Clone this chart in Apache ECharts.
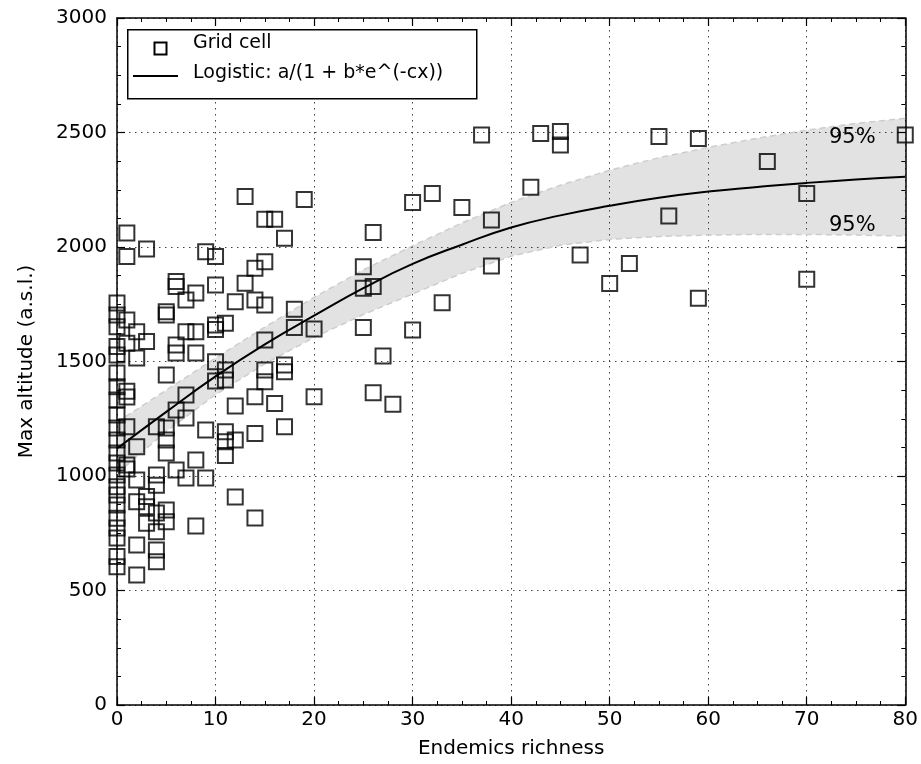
<!DOCTYPE html>
<html>
<head>
<meta charset="utf-8">
<script src="https://cdn.jsdelivr.net/npm/echarts@6/dist/echarts.min.js"></script>
<style>
html,body{margin:0;padding:0;background:#fff;}
#chart{width:921px;height:764px;}
</style>
</head>
<body>
<div id="chart"></div>
<script>
// Scatter data: endemics richness (x) and max altitude (y)
const richness = [
  0,0,0,0,0,0,0,0,0,0,0,0,0,0,0,0,0,0,0,0,0,0,
  1,1,1,1,1,1,1,1,1,
  2,2,2,2,2,2,2,
  3,3,3,3,3,
  4,4,4,4,4,4,4,
  5,5,5,5,5,5,5,5,
  6,6,6,6,6,6,
  7,7,7,7,7,
  8,8,8,8,8,
  9,9,9,
  10,10,10,10,10,10,
  11,11,11,11,11,11,
  12,12,12,12,
  13,13,
  14,14,14,14,14,
  15,15,15,15,15,15,
  16,16,
  17,17,17,17,
  18,18,
  19,
  20,20,
  25,25,25,
  26,26,26,
  27,28,
  30,30,
  32,33,35,37,
  38,38,
  42,43,
  45,45,
  47,50,52,55,56,
  59,59,
  66,
  70,70,
  80
];
const altitude = [
  1755,1703,1652,1565,1528,1450,1390,1332,1266,1210,1157,1100,1057,1004,953,917,873,816,773,729,648,604,
  2061,1958,1681,1580,1370,1345,1215,1048,1031,
  1630,1515,1128,982,888,699,568,
  1991,1587,910,866,794,
  1215,1004,960,838,757,677,626,
  1717,1703,1441,1210,1157,1100,851,800,
  1849,1827,1572,1537,1288,1026,
  1769,1630,1354,1253,991,
  1799,1630,1537,1070,782,
  1979,1201,991,
  1958,1834,1659,1640,1499,1415,
  1667,1463,1419,1193,1150,1090,
  1761,1306,1157,908,
  2220,1842,
  1907,1769,1346,1186,817,
  2121,1936,1747,1594,1463,1412,
  2121,1317,
  2038,1485,1455,1215,
  1728,1649,
  2207,
  1642,1346,
  1914,1820,1649,
  2063,1827,1364,
  1524,1313,
  2194,1638,
  2234,1757,2173,2489,
  2118,1917,
  2261,2496,
  2504,2445,
  1965,1841,1928,2482,2135,
  2474,1776,
  2373,
  2234,1859,
  2489
];

// Logistic fit curve and 95% band, sampled from the figure
const curveX = [0,5,10,15,20,25,30,35,40,45,50,55,60,65,70,75,80];
const fitY   = [1120,1280,1435,1575,1700,1820,1926,2010,2085,2138,2180,2215,2242,2262,2280,2295,2307];
const upperY = [1235,1375,1515,1650,1780,1900,2005,2105,2195,2270,2335,2390,2435,2475,2510,2540,2562];
const lowerY = [1010,1195,1355,1490,1605,1705,1795,1885,1960,2008,2033,2046,2052,2055,2055,2052,2048];

const xTicks = [0,10,20,30,40,50,60,70,80];
const yTicks = [0,500,1000,1500,2000,2500,3000];

const FONT = 'DejaVu Sans';
const scatterData = richness.map((x, i) => [x, altitude[i]]);
const pair = arr => curveX.map((x, i) => [x, arr[i]]);
const bandData = curveX.map((x, i) => [x, lowerY[i], upperY[i]]);

const chart = echarts.init(document.getElementById('chart'));

const gridLine = {show: true, lineStyle: {color: '#444', width: 1, type: [1.5, 4.5]}};
const axLine = {show: true, onZero: false, lineStyle: {color: '#000', width: 1.5}};
const tick = {show: true, inside: true, length: 8, lineStyle: {color: '#000', width: 1.2}};
const minor = {show: true, splitNumber: 4, length: 4, lineStyle: {color: '#000', width: 1}};

chart.setOption({
  animation: false,
  backgroundColor: '#fff',
  grid: {left: 117, right: 15, top: 18, bottom: 59, containLabel: false},
  xAxis: [{
    type: 'value', min: xTicks[0], max: xTicks[xTicks.length - 1], interval: 10,
    name: 'Endemics richness', nameLocation: 'middle', nameGap: 34,
    nameTextStyle: {fontFamily: FONT, fontSize: 20, color: '#000'},
    axisLine: axLine, axisTick: tick, minorTick: minor,
    axisLabel: {fontFamily: FONT, fontSize: 20, color: '#000', margin: 5},
    splitLine: gridLine
  }, {
    type: 'value', position: 'top', min: 0, max: 80, interval: 10,
    axisLine: axLine, axisTick: tick, minorTick: minor,
    axisLabel: {show: false}, splitLine: {show: false}
  }],
  yAxis: [{
    type: 'value', min: yTicks[0], max: yTicks[yTicks.length - 1], interval: 500,
    name: 'Max altitude (a.s.l.)', nameLocation: 'middle', nameGap: 80,
    nameTextStyle: {fontFamily: FONT, fontSize: 20, color: '#000'},
    axisLine: axLine, axisTick: tick, minorTick: minor,
    axisLabel: {fontFamily: FONT, fontSize: 20, color: '#000', margin: 10,
                formatter: v => String(v)},
    splitLine: gridLine
  }, {
    type: 'value', position: 'right', min: 0, max: 3000, interval: 500,
    axisLine: axLine, axisTick: tick, minorTick: minor,
    axisLabel: {show: false}, splitLine: {show: false}
  }],
  series: [
    {
      name: 'band', type: 'custom', data: bandData, silent: true, z: 1, clip: true,
      renderItem: function (params, api) {
        if (params.dataIndex !== 0) return null;
        const up = [], lo = [];
        for (let i = 0; i < bandData.length; i++) {
          up.push(api.coord([bandData[i][0], bandData[i][2]]));
          lo.push(api.coord([bandData[i][0], bandData[i][1]]));
        }
        const pts = up.concat(lo.reverse());
        return {
          type: 'polygon',
          shape: {points: pts},
          style: {fill: 'rgba(0,0,0,0.115)', stroke: 'none'}
        };
      }
    },
    {
      name: 'upperEdge', type: 'line', data: pair(upperY), symbol: 'none', smooth: false,
      lineStyle: {color: '#cdcdcd', width: 1.5, type: [6, 4]}, silent: true, z: 2
    },
    {
      name: 'lowerEdge', type: 'line', data: pair(lowerY), symbol: 'none', smooth: false,
      lineStyle: {color: '#cdcdcd', width: 1.5, type: [6, 4]}, silent: true, z: 2
    },
    {
      name: 'Logistic: a/(1 + b*e^(-cx))', type: 'line', data: pair(fitY), symbol: 'none', smooth: true,
      lineStyle: {color: '#000', width: 2}, z: 3
    },
    {
      name: 'Grid cell', type: 'scatter', data: scatterData, symbol: 'rect', symbolSize: 15,
      itemStyle: {color: 'rgba(255,255,255,0)', borderColor: '#000', borderWidth: 2}, z: 4
    }
  ],
  graphic: [
    {type: 'rect', left: 127, top: 29, z: 100,
     shape: {width: 349, height: 69},
     style: {fill: '#fff', stroke: '#000', lineWidth: 1.5}},
    {type: 'rect', left: 152, top: 40, z: 101,
     shape: {width: 12, height: 12},
     style: {fill: 'none', stroke: '#000', lineWidth: 2}},
    {type: 'line', z: 101, shape: {x1: 133, y1: 76, x2: 178, y2: 76},
     style: {stroke: '#000', lineWidth: 2}},
    {type: 'text', left: 193, top: 34, z: 101,
     style: {text: 'Grid cell', font: '19px "DejaVu Sans"', fill: '#000'}},
    {type: 'text', left: 193, top: 64, z: 101,
     style: {text: 'Logistic: a/(1 + b*e^(-cx))', font: '19px "DejaVu Sans"', fill: '#000'}},
    {type: 'text', left: 829, top: 127, z: 101,
     style: {text: '95%', font: '21px "DejaVu Sans"', fill: '#000'}},
    {type: 'text', left: 829, top: 215, z: 101,
     style: {text: '95%', font: '21px "DejaVu Sans"', fill: '#000'}}
  ]
});
</script>
</body>
</html>
